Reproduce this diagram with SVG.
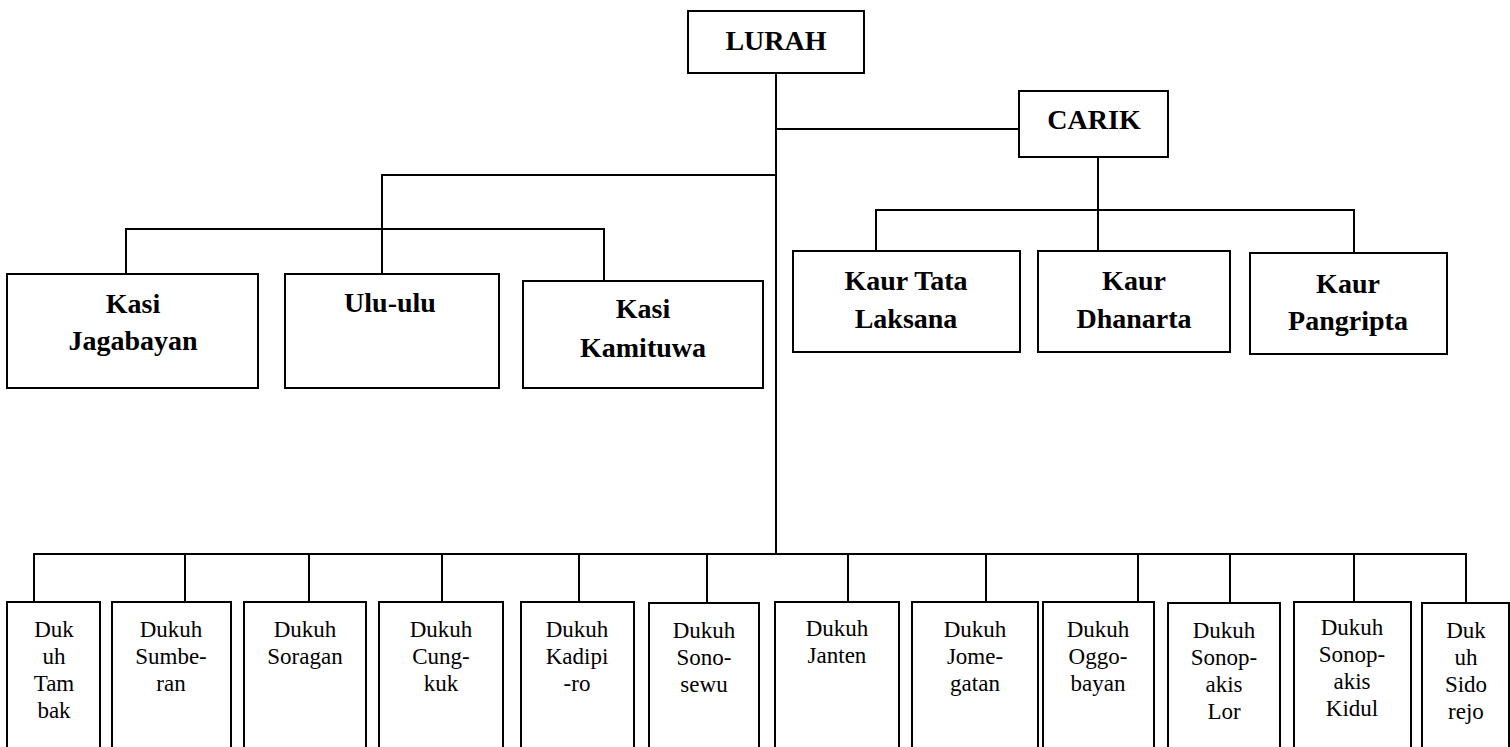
<svg xmlns="http://www.w3.org/2000/svg" width="1510" height="747" viewBox="0 0 1510 747">
<style>
.box{fill:#fff;stroke:#000;stroke-width:2}
.ln{fill:none;stroke:#000;stroke-width:2}
text{font-family:'Liberation Serif','Times New Roman',Times,'DejaVu Serif',serif;text-anchor:middle;fill:#000}
.b{font-weight:bold;font-size:28px}
.r{font-weight:normal;font-size:23px}
</style>
<rect width="1510" height="747" fill="#fff"/>
<g id="connectors" class="ln">
<path d="M776,73V554"/>
<path d="M776,129H1019"/>
<path d="M1098,157V210"/>
<path d="M876,250V210H1354V253"/>
<path d="M1098,210V250"/>
<path d="M776,175H382V274"/>
<path d="M126,274V229H604V281"/>
<path d="M34,602V554H1466V603"/>
<path d="M185,554V602M309,554V602M442,554V602M579,554V602M707,554V603M848,554V602M986,554V602M1138,554V602M1230,554V603M1354,554V602"/>
</g>
<g id="lurah"><rect class="box" x="688" y="11" width="176" height="62"/><text class="b" x="776" y="50">LURAH</text></g>
<g id="carik"><rect class="box" x="1019" y="91" width="149" height="66"/><text class="b" x="1094" y="129">CARIK</text></g>
<g id="kasi-jagabayan"><rect class="box" x="7" y="274" width="251" height="114"/><text class="b" x="133" y="313">Kasi</text><text class="b" x="133" y="350">Jagabayan</text></g>
<g id="ulu-ulu"><rect class="box" x="285" y="274" width="214" height="114"/><text class="b" x="390" y="312">Ulu-ulu</text></g>
<g id="kasi-kamituwa"><rect class="box" x="523" y="281" width="240" height="107"/><text class="b" x="643" y="318">Kasi</text><text class="b" x="643" y="357">Kamituwa</text></g>
<g id="kaur-tata-laksana"><rect class="box" x="793" y="251" width="227" height="101"/><text class="b" x="906" y="290">Kaur Tata</text><text class="b" x="906" y="328">Laksana</text></g>
<g id="kaur-dhanarta"><rect class="box" x="1038" y="251" width="192" height="101"/><text class="b" x="1134" y="290">Kaur</text><text class="b" x="1134" y="328">Dhanarta</text></g>
<g id="kaur-pangripta"><rect class="box" x="1250" y="253" width="197" height="101"/><text class="b" x="1348" y="293">Kaur</text><text class="b" x="1348" y="330">Pangripta</text></g>
<g id="dukuh-tambak"><rect class="box" x="7" y="602" width="93" height="160"/><text class="r" x="54" y="637">Duk</text><text class="r" x="54" y="664">uh</text><text class="r" x="54" y="691">Tam</text><text class="r" x="54" y="718">bak</text></g>
<g id="dukuh-sumberan"><rect class="box" x="112" y="602" width="119" height="160"/><text class="r" x="171" y="637">Dukuh</text><text class="r" x="171" y="664">Sumbe-</text><text class="r" x="171" y="691">ran</text></g>
<g id="dukuh-soragan"><rect class="box" x="244" y="602" width="122" height="160"/><text class="r" x="305" y="637">Dukuh</text><text class="r" x="305" y="664">Soragan</text></g>
<g id="dukuh-cungkuk"><rect class="box" x="379" y="602" width="124" height="160"/><text class="r" x="441" y="637">Dukuh</text><text class="r" x="441" y="664">Cung-</text><text class="r" x="441" y="691">kuk</text></g>
<g id="dukuh-kadipiro"><rect class="box" x="521" y="602" width="113" height="160"/><text class="r" x="577" y="637">Dukuh</text><text class="r" x="577" y="664">Kadipi</text><text class="r" x="577" y="691">-ro</text></g>
<g id="dukuh-sonosewu"><rect class="box" x="649" y="603" width="110" height="160"/><text class="r" x="704" y="638">Dukuh</text><text class="r" x="704" y="665">Sono-</text><text class="r" x="704" y="692">sewu</text></g>
<g id="dukuh-janten"><rect class="box" x="775" y="602" width="124" height="160"/><text class="r" x="837" y="636">Dukuh</text><text class="r" x="837" y="663">Janten</text></g>
<g id="dukuh-jomegatan"><rect class="box" x="912" y="602" width="126" height="160"/><text class="r" x="975" y="637">Dukuh</text><text class="r" x="975" y="664">Jome-</text><text class="r" x="975" y="691">gatan</text></g>
<g id="dukuh-oggobayan"><rect class="box" x="1043" y="602" width="111" height="160"/><text class="r" x="1098" y="637">Dukuh</text><text class="r" x="1098" y="664">Oggo-</text><text class="r" x="1098" y="691">bayan</text></g>
<g id="dukuh-sonopakis-lor"><rect class="box" x="1168" y="603" width="112" height="160"/><text class="r" x="1224" y="638">Dukuh</text><text class="r" x="1224" y="665">Sonop-</text><text class="r" x="1224" y="692">akis</text><text class="r" x="1224" y="719">Lor</text></g>
<g id="dukuh-sonopakis-kidul"><rect class="box" x="1294" y="602" width="117" height="160"/><text class="r" x="1352" y="635">Dukuh</text><text class="r" x="1352" y="662">Sonop-</text><text class="r" x="1352" y="689">akis</text><text class="r" x="1352" y="716">Kidul</text></g>
<g id="dukuh-sidorejo"><rect class="box" x="1422" y="603" width="87" height="160"/><text class="r" x="1466" y="638">Duk</text><text class="r" x="1466" y="665">uh</text><text class="r" x="1466" y="692">Sido</text><text class="r" x="1466" y="719">rejo</text></g>
</svg>
